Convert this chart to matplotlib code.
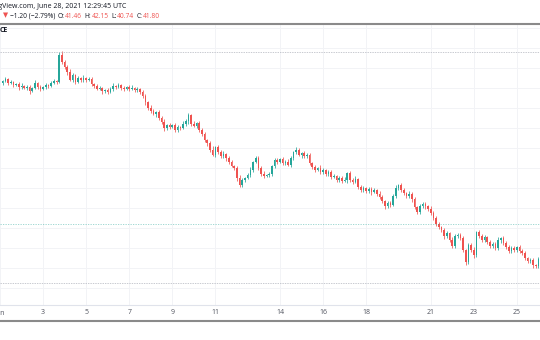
import numpy as np
import pandas as pd
import matplotlib
matplotlib.use("Agg")
import matplotlib.pyplot as plt
import matplotlib.dates as mdates
from matplotlib.lines import Line2D

plt.rcParams["font.family"] = ["Open Sans", "DejaVu Sans"]

UP = "#26a69a"
DOWN = "#ef5350"

# 3-hour candles, closing prices
closes = [
    48.95, 49.05, 48.85, 48.90, 48.75, 48.80, 48.65, 48.70, 48.60, 48.65,
    48.45, 48.60, 48.85, 48.65, 48.55, 48.65, 48.75, 48.70, 48.85, 48.95,
    48.90, 50.25, 49.90, 49.65, 49.40, 49.00, 49.25, 48.90, 49.10, 49.00,
    49.10, 49.00, 49.05, 48.80, 48.70, 48.55, 48.60, 48.45, 48.50, 48.40,
    48.55, 48.70, 48.65, 48.75, 48.60, 48.55, 48.65, 48.55, 48.60, 48.50,
    48.55, 48.40, 48.20, 47.90, 47.60, 47.45, 47.30, 47.40, 47.10, 46.90,
    46.60, 46.75, 46.65, 46.75, 46.50, 46.65, 46.60, 46.80, 46.95, 47.25,
    46.80, 46.70, 46.85, 46.50, 46.30, 46.00, 45.85, 45.50, 45.25, 45.65,
    45.40, 45.20, 45.30, 45.10, 44.90, 44.70, 44.60, 44.10, 43.75, 44.00,
    44.10, 44.25, 44.50, 44.90, 45.10, 44.60, 44.30, 44.20, 44.25, 44.30,
    44.70, 45.00, 44.90, 45.05, 44.85, 44.90, 44.75, 45.10, 45.40, 45.50,
    45.25, 45.35, 45.20, 45.25, 44.85, 44.65, 44.50, 44.60, 44.40, 44.50,
    44.30, 44.40, 44.15, 44.20, 44.00, 44.10, 43.95, 44.00, 44.35, 44.00,
    43.90, 44.05, 43.65, 43.50, 43.60, 43.45, 43.55, 43.40, 43.50, 43.30,
    43.15, 42.95, 42.70, 42.85, 42.75, 43.20, 43.60, 43.75, 43.50, 43.35,
    43.20, 43.30, 43.05, 42.65, 42.40, 42.70, 42.80, 42.70, 42.55, 42.35,
    42.10, 41.80, 41.65, 41.50, 41.20, 41.35, 41.00, 40.70, 41.20, 41.25,
    41.10, 40.50, 39.90, 40.75, 40.50, 40.25, 41.40, 41.20, 41.00, 41.15,
    40.90, 40.70, 40.80, 40.60, 41.00, 41.10, 40.85, 40.65, 40.45, 40.60,
    40.50, 40.65, 40.45, 40.35, 40.10, 39.95, 40.00, 39.75, 39.70, 40.05,
]
first_open = 48.85

# wick lengths above / below the body, in cents
wick_hi = [
    6, 10, 4, 12, 7, 5, 9, 14, 6, 8, 11, 5, 15, 7, 9, 4, 10, 6, 8, 12,
    5, 15, 20, 10, 8, 16, 9, 6, 11, 7, 13, 5, 8, 10, 6, 9, 12, 4, 7, 10,
    8, 14, 6, 9, 5, 11, 7, 8, 13, 6, 9, 5, 10, 12, 7, 15, 8, 6, 11, 9,
    14, 7, 10, 5, 12, 8, 6, 16, 9, 11, 7, 13, 5, 10, 8, 12, 6, 9, 18, 7,
    11, 8, 14, 6, 10, 9, 5, 12, 15, 8, 7, 10, 13, 6, 9, 11, 8, 14, 5, 10,
    7, 12, 9, 6, 11, 8, 13, 10, 7, 15, 9, 6, 12, 8, 10, 5, 11, 7, 14, 9,
    6, 10, 8, 12, 7, 11, 9, 16, 5, 10, 8, 13, 6, 9, 12, 7, 10, 8, 11, 6,
    14, 9, 7, 12, 10, 8, 15, 6, 11, 9, 7, 13, 8, 10, 6, 12, 9, 11, 7, 14,
    8, 10, 12, 6, 9, 11, 7, 13, 10, 8, 12, 9, 6, 11, 8, 14, 7, 10, 9, 12,
    6, 11, 8, 10, 13, 7, 9, 12, 8, 10, 9, 7, 12, 8, 10, 6, 11, 9, 7, 10,
]
wick_lo = [
    9, 5, 12, 7, 10, 6, 13, 8, 5, 11, 14, 7, 6, 10, 12, 5, 8, 9, 6, 7,
    10, 6, 8, 12, 15, 7, 9, 11, 6, 10, 8, 12, 5, 9, 11, 7, 6, 13, 8, 10,
    7, 9, 11, 6, 12, 8, 5, 10, 7, 9, 12, 8, 10, 14, 9, 11, 7, 13, 10, 12,
    15, 8, 10, 7, 12, 9, 11, 6, 8, 13, 10, 7, 12, 9, 11, 8, 14, 10, 7, 12,
    9, 11, 8, 13, 10, 7, 12, 15, 11, 8, 10, 6, 9, 12, 7, 11, 8, 10, 6, 9,
    12, 8, 10, 7, 11, 9, 6, 12, 8, 10, 7, 13, 9, 11, 8, 12, 10, 7, 9, 11,
    8, 10, 12, 7, 9, 11, 8, 6, 13, 10, 9, 7, 12, 10, 8, 11, 9, 13, 7, 10,
    12, 9, 14, 8, 11, 7, 10, 9, 12, 8, 10, 11, 13, 9, 12, 8, 10, 14, 9, 11,
    12, 10, 8, 11, 13, 9, 12, 10, 8, 11, 9, 12, 15, 10, 11, 13, 9, 8, 12, 10,
    11, 9, 12, 8, 10, 13, 9, 11, 12, 8, 10, 9, 11, 12, 10, 9, 11, 13, 10, 8,
]

times = pd.date_range("2021-06-01 03:00", periods=len(closes), freq="3h")
tick_days = [1, 3, 5, 7, 9, 11, 14, 16, 18, 21, 23, 25]
tick_labels = ["Jun", "3", "5", "7", "9", "11", "14", "16", "18", "21", "23", "25"]

last_close = 41.80
range_high = 50.40
range_low = 38.85

header = "TradingView.com, June 28, 2021 12:29:45 UTC"

c = np.array(closes)
o = np.r_[first_open, c[:-1]]
hi = np.maximum(o, c) + np.array(wick_hi) / 100
lo = np.minimum(o, c) - np.array(wick_lo) / 100
colors = [UP if cc >= oo else DOWN for oo, cc in zip(o, c)]
x = mdates.date2num(times)

W, H = 540, 340
fig = plt.figure(figsize=(W / 100, H / 100), dpi=100)
ax = fig.add_axes([0, 35 / H, 1, 281 / H])

ax.vlines(x, lo, hi, colors=colors, lw=0.55)
ax.bar(x, np.maximum(np.abs(c - o), 0.03), bottom=np.minimum(o, c),
       width=0.075, color=colors, linewidth=0)

ax.axhline(range_high, color="#b2b5be", lw=0.5, ls=(0, (2, 1.5)))
ax.axhline(range_low, color="#b2b5be", lw=0.5, ls=(0, (2, 1.5)))
ax.axhline(last_close, color=UP, lw=0.6, ls=(0, (1.5, 1.5)), alpha=0.5)

jun1 = mdates.date2num(pd.Timestamp("2021-06-01"))
px_day = 21.6
ax.set_xlim(jun1 + 1.6 / px_day, jun1 + 541.6 / px_day)
ax.set_ylim(37.75, 51.80)

ax.set_xticks([jun1 + d - 1 for d in tick_days])
ax.set_xticklabels(tick_labels)
ax.set_yticks(np.arange(38.6, 51.7, 1.0))
ax.tick_params(axis="x", length=0, pad=3, labelsize=5, labelcolor="#50535e")
ax.tick_params(axis="y", length=0, labelleft=False)
ax.grid(True, color="#f2f3f6", lw=0.7)
ax.set_axisbelow(True)
for side in ["top", "left", "right"]:
    ax.spines[side].set_visible(False)
ax.spines["bottom"].set_color("#e0e3eb")
ax.spines["bottom"].set_linewidth(0.8)

# pane separators
for yp in (23.5, 320.5):
    fig.add_artist(Line2D([0, 1], [1 - yp / H] * 2, transform=fig.transFigure,
                          color="#8a8a8a", lw=1.5))

# header lines
dark = "#131722"
fig.text(126 / W, 1 - 7 / H, header, ha="right", va="center", fontsize=5, color=dark)

# second header row, pieces laid out one after another
row2 = [
    ("▼", DOWN, 2), ("−1.20 (−2.79%)", dark, 2.5),
    ("O:", dark, 0.3), ("41.46", DOWN, 2.5),
    ("H:", dark, 0.3), ("42.15", DOWN, 2.5),
    ("L:", dark, 0.3), ("40.74", DOWN, 2.5),
    ("C:", dark, 0.3), ("41.80", DOWN, 0),
]
renderer = fig.canvas.get_renderer()
xp = 3
for s, col, gap in row2:
    t = fig.text(xp / W, 1 - 16 / H, s, ha="left", va="center", fontsize=4.8,
                 color=col, family=["Open Sans", "DejaVu Sans"])
    xp = t.get_window_extent(renderer=renderer).x1 + gap

fig.text(8 / W, 1 - 31 / H, "CE", ha="right", va="center", fontsize=5,
         color=dark, fontweight="bold")

fig.savefig("out.png", dpi=100, facecolor="white")
